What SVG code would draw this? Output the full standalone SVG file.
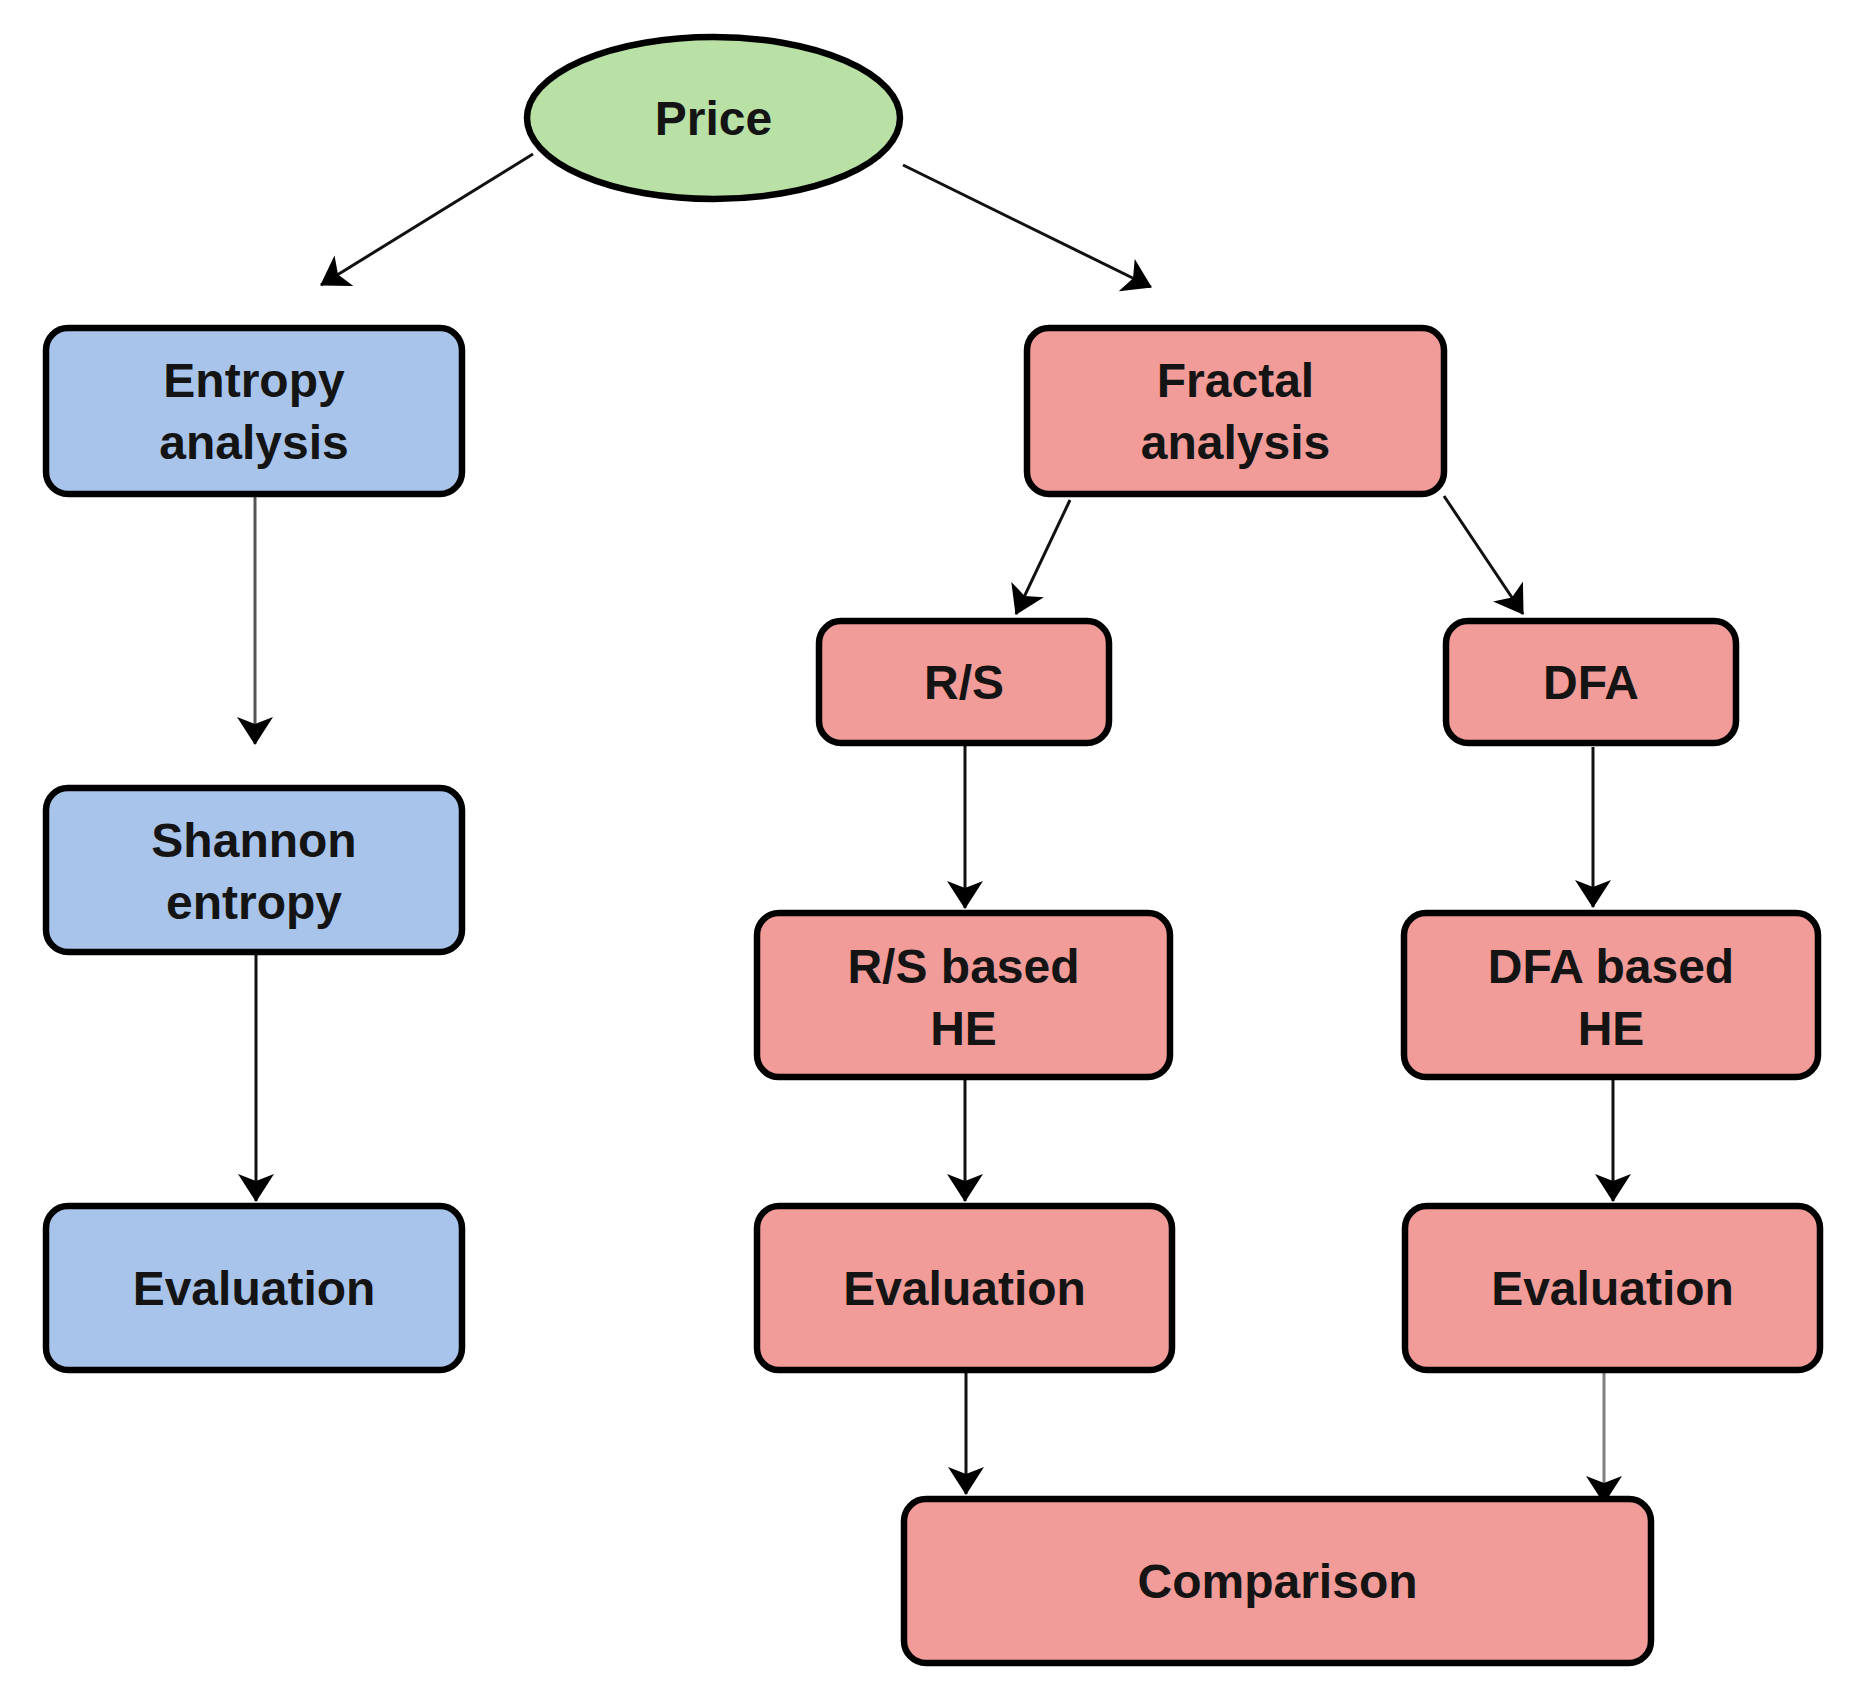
<svg xmlns="http://www.w3.org/2000/svg" width="1850" height="1708" viewBox="0 0 1850 1708">
<defs>
<style>
.box{stroke:#000;stroke-width:6.5}
.blue{fill:#A9C4EB}
.red{fill:#F19C99}
.green{fill:#B9E0A5}
.lbl{font-family:"Liberation Sans",Arial,sans-serif;font-weight:bold;font-size:48px;fill:#141414;text-anchor:middle}
.edge{fill:none;stroke:#111;stroke-width:3}
</style>
<marker id="arr" viewBox="0 0 28 36" markerWidth="28" markerHeight="36" refX="27" refY="18" orient="auto" markerUnits="userSpaceOnUse">
<path d="M0,0 L28,18 L0,36 L7,18 Z" fill="#000"/>
</marker>
</defs>
<rect width="1850" height="1708" fill="#fff"/>
<g id="connectors">
<line class="edge" x1="533" y1="154" x2="321" y2="285" marker-end="url(#arr)"/>
<line class="edge" x1="903" y1="165" x2="1151" y2="287" marker-end="url(#arr)"/>
<line class="edge" x1="255" y1="497" x2="255" y2="744" style="stroke:#555" marker-end="url(#arr)"/>
<line class="edge" x1="256" y1="955" x2="256" y2="1201" marker-end="url(#arr)"/>
<line class="edge" x1="1070" y1="500" x2="1016" y2="614" marker-end="url(#arr)"/>
<line class="edge" x1="1444" y1="496" x2="1523" y2="614" marker-end="url(#arr)"/>
<line class="edge" x1="965" y1="746" x2="965" y2="908" marker-end="url(#arr)"/>
<line class="edge" x1="1593" y1="747" x2="1593" y2="907" marker-end="url(#arr)"/>
<line class="edge" x1="965" y1="1080" x2="965" y2="1201" marker-end="url(#arr)"/>
<line class="edge" x1="1613" y1="1080" x2="1613" y2="1201" marker-end="url(#arr)"/>
<line class="edge" x1="966" y1="1373" x2="966" y2="1494" marker-end="url(#arr)"/>
<line class="edge" x1="1604" y1="1373" x2="1604" y2="1503" style="stroke:#808080" marker-end="url(#arr)"/>
</g>
<g id="price">
<ellipse class="box green" cx="713.5" cy="118" rx="186.5" ry="81"/>
<text class="lbl" x="713.5" y="135">Price</text>
</g>
<g id="entropy-analysis">
<rect class="box blue" x="46" y="328" width="416" height="166" rx="22"/>
<text class="lbl" x="254" y="397">Entropy</text>
<text class="lbl" x="254" y="459">analysis</text>
</g>
<g id="shannon-entropy">
<rect class="box blue" x="46" y="788" width="416" height="164" rx="22"/>
<text class="lbl" x="254" y="857">Shannon</text>
<text class="lbl" x="254" y="919">entropy</text>
</g>
<g id="evaluation-left">
<rect class="box blue" x="46" y="1206" width="416" height="164" rx="22"/>
<text class="lbl" x="254" y="1305">Evaluation</text>
</g>
<g id="fractal-analysis">
<rect class="box red" x="1027" y="328" width="417" height="166" rx="22"/>
<text class="lbl" x="1235.5" y="397">Fractal</text>
<text class="lbl" x="1235.5" y="459">analysis</text>
</g>
<g id="rs">
<rect class="box red" x="819" y="621" width="290" height="122" rx="22"/>
<text class="lbl" x="964" y="699">R/S</text>
</g>
<g id="dfa">
<rect class="box red" x="1446" y="621" width="290" height="122" rx="22"/>
<text class="lbl" x="1591" y="699">DFA</text>
</g>
<g id="rs-he">
<rect class="box red" x="757" y="913" width="413" height="164" rx="22"/>
<text class="lbl" x="963.5" y="983">R/S based</text>
<text class="lbl" x="963.5" y="1045">HE</text>
</g>
<g id="dfa-he">
<rect class="box red" x="1404" y="913" width="414" height="164" rx="22"/>
<text class="lbl" x="1611" y="983">DFA based</text>
<text class="lbl" x="1611" y="1045">HE</text>
</g>
<g id="evaluation-mid">
<rect class="box red" x="757" y="1206" width="415" height="164" rx="22"/>
<text class="lbl" x="964.5" y="1305">Evaluation</text>
</g>
<g id="evaluation-right">
<rect class="box red" x="1405" y="1206" width="415" height="164" rx="22"/>
<text class="lbl" x="1612.5" y="1305">Evaluation</text>
</g>
<g id="comparison">
<rect class="box red" x="904" y="1499" width="747" height="164" rx="22"/>
<text class="lbl" x="1277.5" y="1598">Comparison</text>
</g>
</svg>
